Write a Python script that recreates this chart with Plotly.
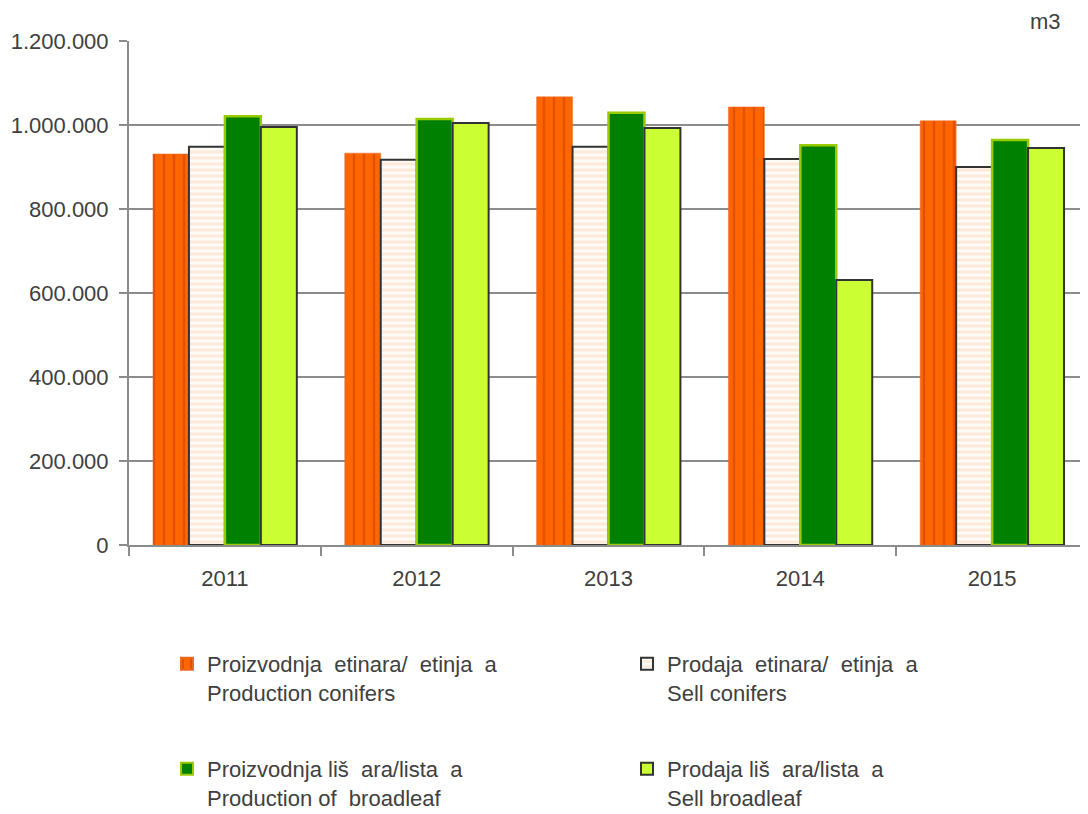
import plotly.graph_objects as go

years = ["2011", "2012", "2013", "2014", "2015"]
prod_conifers = [931000, 933000, 1067000, 1043000, 1010000]
sell_conifers = [948000, 917000, 948000, 919000, 900000]
prod_broadleaf = [1021000, 1014000, 1029000, 952000, 964000]
sell_broadleaf = [995000, 1005000, 993000, 631000, 945000]

NB = "\u00a0"
names = [
    f"Proizvodnja{NB}{NB}etinara/{NB}{NB}etinja{NB}{NB}a<br>Production conifers",
    f"Prodaja{NB}{NB}etinara/{NB}{NB}etinja{NB}{NB}a<br>Sell conifers",
    f"Proizvodnja liš{NB}{NB}ara/lista{NB}{NB}a<br>Production of{NB}{NB}broadleaf",
    f"Prodaja liš{NB}{NB}ara/lista{NB}{NB}a<br>Sell broadleaf",
]

fig = go.Figure()
fig.add_trace(go.Bar(
    x=years, y=prod_conifers, name=names[0], legend="legend",
    marker=dict(color="#ff6600",
                pattern=dict(shape="|", fgcolor="#c83c00", bgcolor="#ff6600", size=10, solidity=0.25),
                line=dict(color="#e86a20", width=0.5)),
))
fig.add_trace(go.Bar(
    x=years, y=sell_conifers, name=names[1], legend="legend",
    marker=dict(color="#ffffff",
                pattern=dict(shape="-", fgcolor="#fdd8bc", bgcolor="#fdfbf8", size=6, solidity=0.5),
                line=dict(color="#333333", width=2)),
))
fig.add_trace(go.Bar(
    x=years, y=prod_broadleaf, name=names[2], legend="legend2",
    marker=dict(color="#008000", line=dict(color="#99cc00", width=2.5)),
))
fig.add_trace(go.Bar(
    x=years, y=sell_broadleaf, name=names[3], legend="legend2",
    marker=dict(color="#ccff33", line=dict(color="#333333", width=2)),
))

font_family = "Liberation Sans, Arial, sans-serif"
FS = 22
legend_common = dict(
    orientation="h", xanchor="left", yanchor="top",
    entrywidth=415, entrywidthmode="pixels",
    font=dict(family=font_family, size=FS, color="#404040"),
    bgcolor="rgba(0,0,0,0)", itemsizing="constant",
    traceorder="normal", valign="top",
)

OFF = 8  # page body margin
W, H = 1088 - OFF, 814 - OFF
# plot area in screen pixels
SL, SR, ST, SB = 129, 1088, 41, 545
PL, PR, PT, PB = SL - OFF, SR - OFF, ST - OFF, SB - OFF


def px_x(sx):
    return (sx - SL) / (SR - SL)


def px_y(sy):
    return (SB - sy) / (SB - ST)


fig.update_layout(
    width=W, height=H,
    margin=dict(l=PL, r=W - PR, t=PT, b=H - PB, autoexpand=False),
    plot_bgcolor="#ffffff", paper_bgcolor="#ffffff",
    barmode="group", bargap=0.25, bargroupgap=0,
    separators=",.",
    showlegend=True,
    legend=dict(x=px_x(167), y=px_y(643), **legend_common),
    legend2=dict(x=px_x(167), y=px_y(748), **legend_common),
    font=dict(family=font_family, size=FS, color="#404040"),
    xaxis=dict(
        showgrid=False, showline=True, linecolor="#8c8c8c", linewidth=2,
        ticks="outside", tickson="boundaries", ticklen=9, tickcolor="#8c8c8c", tickwidth=2,
        tickfont=dict(family=font_family, size=FS, color="#404040"),
        ticklabelstandoff=13, automargin=False,
    ),
    yaxis=dict(
        range=[0, 1200000], tickvals=[0, 200000, 400000, 600000, 800000, 1000000, 1200000],
        tickformat=",.0f",
        showgrid=True, gridcolor="#8c8c8c", gridwidth=1.5,
        showline=True, linecolor="#8c8c8c", linewidth=2,
        ticks="outside", ticklen=8, tickcolor="#8c8c8c", tickwidth=2,
        tickfont=dict(family=font_family, size=FS, color="#404040"),
        ticklabelstandoff=6, automargin=False,
        zeroline=False,
    ),
    annotations=[dict(
        text="m3", x=px_x(1045), y=px_y(22),
        xref="paper", yref="paper", showarrow=False,
        xanchor="center", yanchor="middle",
        font=dict(family=font_family, size=FS, color="#404040"),
    )],
)

fig.write_html("out.html")
